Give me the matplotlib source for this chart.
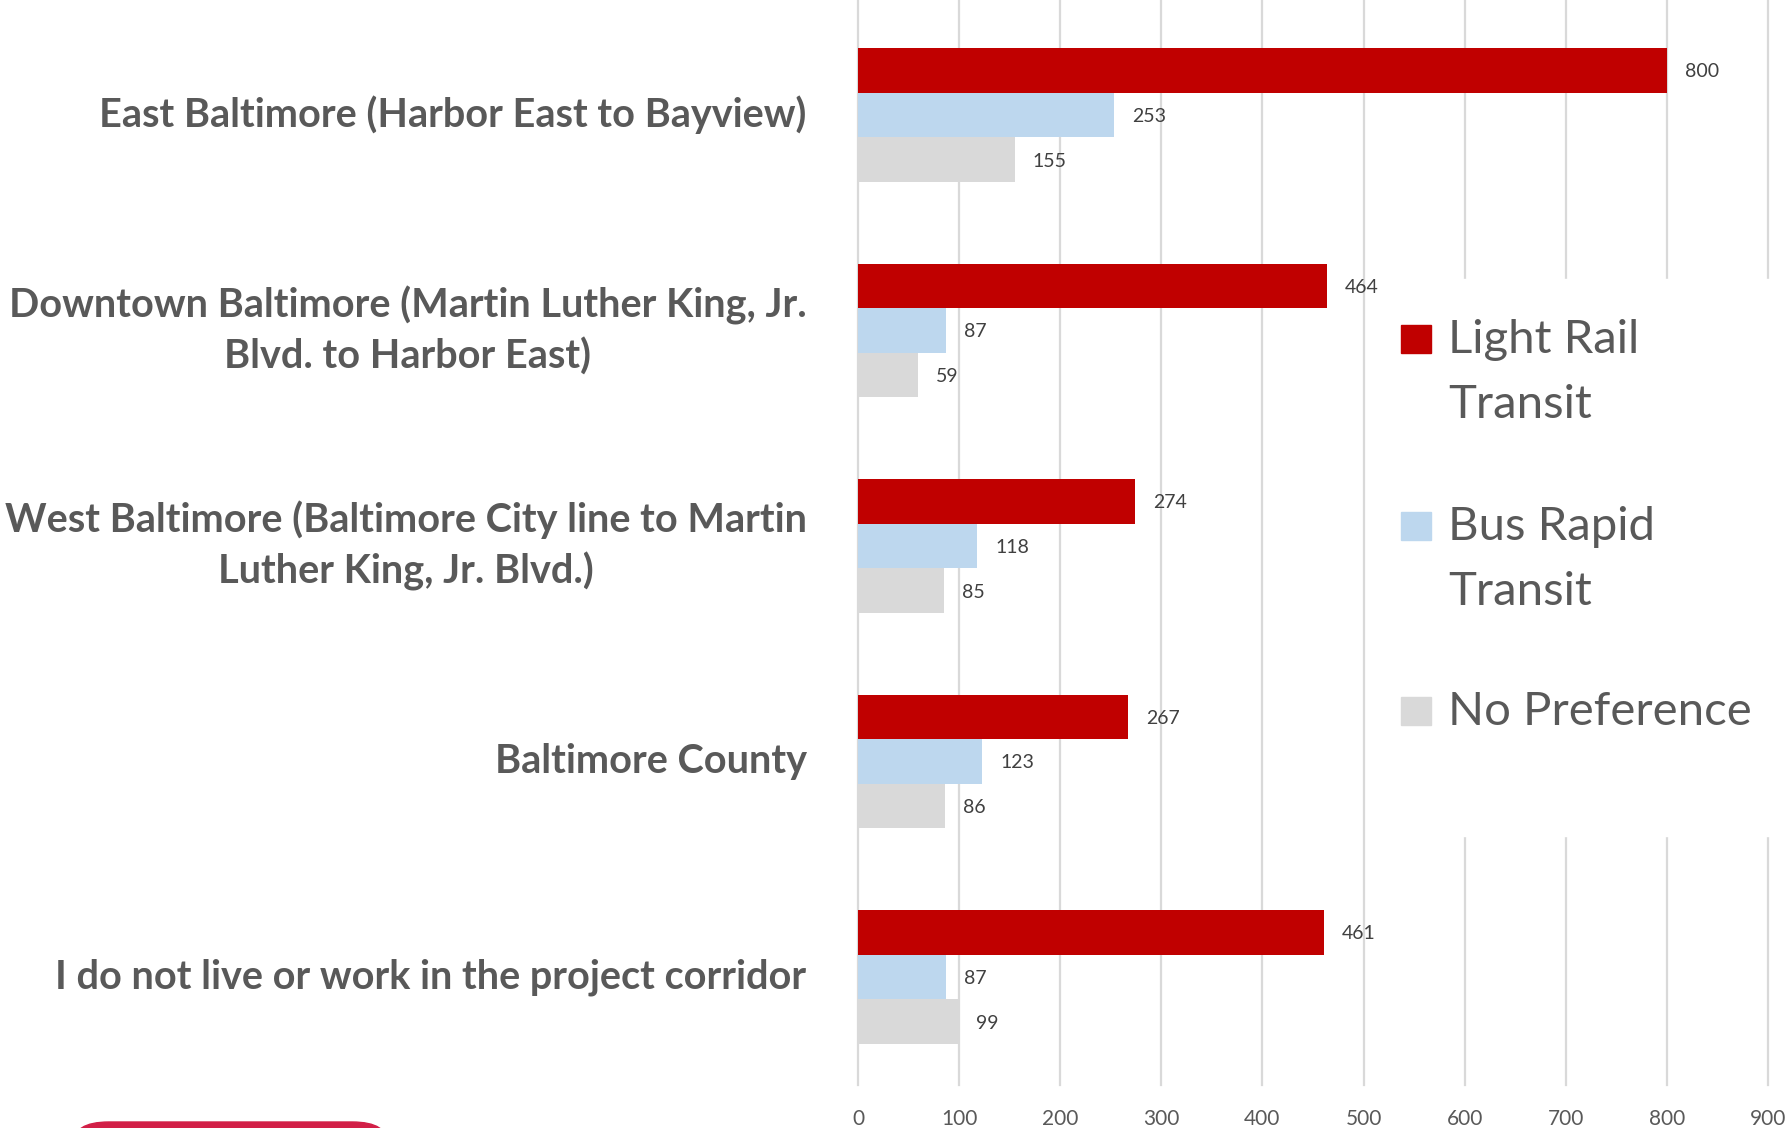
import matplotlib.pyplot as plt
from matplotlib.patches import Rectangle, FancyBboxPatch
import numpy as np

categories = [
    "East Baltimore (Harbor East to Bayview)",
    "Downtown Baltimore (Martin Luther King, Jr.\nBlvd. to Harbor East)",
    "West Baltimore (Baltimore City line to Martin\nLuther King, Jr. Blvd.)",
    "Baltimore County",
    "I do not live or work in the project corridor",
]
series_names = ["Light Rail\nTransit", "Bus Rapid\nTransit", "No Preference"]
light_rail = [800, 464, 274, 267, 461]
bus_rapid = [253, 87, 118, 123, 87]
no_pref = [155, 59, 85, 86, 99]
colors = ["#C00000", "#BDD7EE", "#D9D9D9"]
xticks = [0, 100, 200, 300, 400, 500, 600, 700, 800, 900]

plt.rcParams["font.family"] = ["Lato", "DejaVu Sans"]
W, H = 1787, 1128
fig = plt.figure(figsize=(W / 100, H / 100), dpi=100)
ax = fig.add_axes([858 / W, 43 / H, (1768 - 858) / W, 1085 / H])

y = np.arange(len(categories))
h = 0.207
for i, (vals, c) in enumerate(zip([light_rail, bus_rapid, no_pref], colors)):
    pos = y + (i - 1) * h
    ax.barh(pos, vals, height=h, color=c, zorder=2)
    for p, v in zip(pos, vals):
        ax.annotate(str(v), (v, p), xytext=(13, -1), textcoords="offset points",
                    va="center", ha="left", fontsize=14, color="#404040")

ax.set_xlim(0, 900)
ax.set_ylim(4.501, -0.534)
ax.set_xticks(xticks)
ax.set_yticks(y)
ax.set_yticklabels(categories, fontsize=28.5, fontweight="bold", color="#595959",
                   multialignment="center", linespacing=1.4, va="center")
ax.tick_params(axis="y", length=0, pad=37)
ax.tick_params(axis="x", length=0, pad=17, labelsize=15, labelcolor="#595959")
ax.xaxis.grid(True, color="#D9D9D9", linewidth=1.6, zorder=0)
for gl in ax.get_xgridlines():
    gl.set_clip_on(False)
ax.set_axisbelow(True)
for s in ax.spines.values():
    s.set_visible(False)

# legend on a white panel, drawn by hand to keep the marker at the first line
fig.add_artist(Rectangle((1388 / W, 1 - 836 / H), (W - 1388) / W, (836 - 279) / H,
                         transform=fig.transFigure, color="white", zorder=3))
baselines = [353, 540, 725]
for name, c, b in zip(series_names, colors, baselines):
    fig.add_artist(Rectangle((1401 / W, 1 - b / H), 30 / W, 28 / H,
                             transform=fig.transFigure, color=c, zorder=4))
    for k, line in enumerate(name.split("\n")):
        fig.text(1448 / W, 1 - (b + 65 * k) / H, line, fontsize=34, color="#595959",
                 va="baseline", ha="left", zorder=5)

# red rounded shape cut at the bottom edge
fig.add_artist(FancyBboxPatch((73 / W, -0.05), 315 / W, 0.05 + 6 / H,
                              boxstyle="round,pad=0,rounding_size=0.02",
                              transform=fig.transFigure, color="#D21F47", zorder=4))

fig.savefig("out.png", dpi=100)
